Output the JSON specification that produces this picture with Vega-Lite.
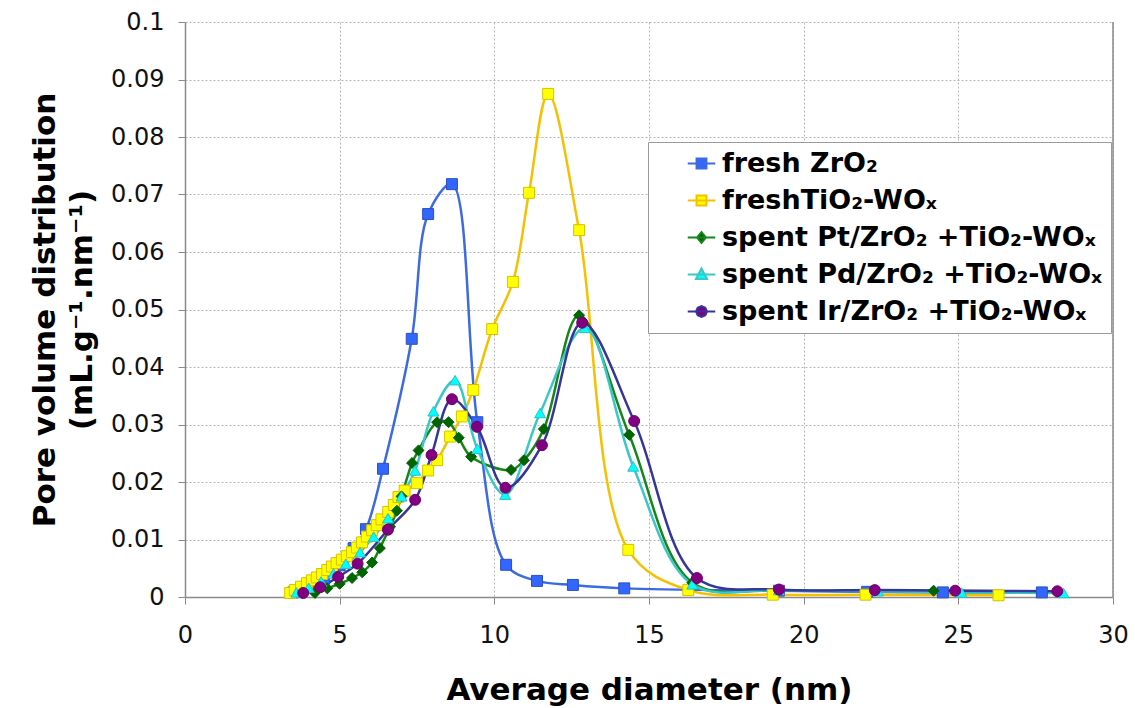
{
  "$schema": "https://vega.github.io/schema/vega-lite/v6.json",
  "width": 928,
  "height": 575,
  "autosize": {"type": "none"},
  "padding": {"left": 185, "top": 22, "right": 22, "bottom": 111},
  "background": "white",
  "config": {
    "view": {"stroke": null},
    "font": "DejaVu Sans",
    "axis": {
      "domainColor": "#8a8a8a",
      "domainWidth": 1.5,
      "tickColor": "#8a8a8a",
      "tickSize": 7,
      "gridColor": "#b4b4b4",
      "gridDash": [2, 2],
      "gridWidth": 1,
      "labelFont": "DejaVu Sans",
      "labelFontSize": 24,
      "labelColor": "#111",
      "titleFont": "DejaVu Sans",
      "titleFontSize": 31,
      "titleFontWeight": "bold",
      "titleColor": "#000"
    },
    "legend": {
      "title": null,
      "orient": "none",
      "legendX": 463,
      "legendY": 120,
      "padding": 8,
      "symbolOffset": 32,
      "strokeColor": "#9a9a9a",
      "fillColor": "white",
      "labelFont": "DejaVu Sans",
      "labelFontSize": 27,
      "labelFontWeight": "bold",
      "labelColor": "#000",
      "labelLimit": 500,
      "labelOffset": 7,
      "symbolSize": 121,
      "rowPadding": 9,
      "symbolStrokeWidth": 2
    }
  },
  "datasets": {
    "pores": [
      {"series": "fresh ZrO₂", "d": 3.5, "v": 0.0008},
      {"series": "fresh ZrO₂", "d": 4.0, "v": 0.0017},
      {"series": "fresh ZrO₂", "d": 4.5, "v": 0.0032},
      {"series": "fresh ZrO₂", "d": 5.0, "v": 0.0055},
      {"series": "fresh ZrO₂", "d": 5.45, "v": 0.0085},
      {"series": "fresh ZrO₂", "d": 5.85, "v": 0.0118},
      {"series": "fresh ZrO₂", "d": 6.4, "v": 0.0223},
      {"series": "fresh ZrO₂", "d": 7.33, "v": 0.0449},
      {"series": "fresh ZrO₂", "d": 7.86, "v": 0.0666},
      {"series": "fresh ZrO₂", "d": 8.63, "v": 0.0718},
      {"series": "fresh ZrO₂", "d": 9.45, "v": 0.0304},
      {"series": "fresh ZrO₂", "d": 10.38, "v": 0.0056},
      {"series": "fresh ZrO₂", "d": 11.38, "v": 0.0028},
      {"series": "fresh ZrO₂", "d": 12.54, "v": 0.0021},
      {"series": "fresh ZrO₂", "d": 14.2, "v": 0.0015},
      {"series": "fresh ZrO₂", "d": 19.2, "v": 0.0011},
      {"series": "fresh ZrO₂", "d": 22.05, "v": 0.0009},
      {"series": "fresh ZrO₂", "d": 24.5, "v": 0.0008},
      {"series": "fresh ZrO₂", "d": 27.7, "v": 0.0008},

      {"series": "freshTiO₂-WOₓ", "d": 3.4, "v": 0.0007},
      {"series": "freshTiO₂-WOₓ", "d": 3.55, "v": 0.0012},
      {"series": "freshTiO₂-WOₓ", "d": 3.75, "v": 0.0018},
      {"series": "freshTiO₂-WOₓ", "d": 3.94, "v": 0.0024},
      {"series": "freshTiO₂-WOₓ", "d": 4.1, "v": 0.0029},
      {"series": "freshTiO₂-WOₓ", "d": 4.26, "v": 0.0034},
      {"series": "freshTiO₂-WOₓ", "d": 4.43, "v": 0.004},
      {"series": "freshTiO₂-WOₓ", "d": 4.6, "v": 0.0047},
      {"series": "freshTiO₂-WOₓ", "d": 4.75, "v": 0.0053},
      {"series": "freshTiO₂-WOₓ", "d": 4.9, "v": 0.0059},
      {"series": "freshTiO₂-WOₓ", "d": 5.07, "v": 0.0065},
      {"series": "freshTiO₂-WOₓ", "d": 5.23, "v": 0.0071},
      {"series": "freshTiO₂-WOₓ", "d": 5.4, "v": 0.0078},
      {"series": "freshTiO₂-WOₓ", "d": 5.56, "v": 0.0086},
      {"series": "freshTiO₂-WOₓ", "d": 5.72, "v": 0.0095},
      {"series": "freshTiO₂-WOₓ", "d": 5.88, "v": 0.0105},
      {"series": "freshTiO₂-WOₓ", "d": 6.05, "v": 0.0116},
      {"series": "freshTiO₂-WOₓ", "d": 6.2, "v": 0.0125},
      {"series": "freshTiO₂-WOₓ", "d": 6.35, "v": 0.0135},
      {"series": "freshTiO₂-WOₓ", "d": 6.57, "v": 0.0148},
      {"series": "freshTiO₂-WOₓ", "d": 6.75, "v": 0.016},
      {"series": "freshTiO₂-WOₓ", "d": 6.9, "v": 0.0174},
      {"series": "freshTiO₂-WOₓ", "d": 7.1, "v": 0.0185},
      {"series": "freshTiO₂-WOₓ", "d": 7.5, "v": 0.0198},
      {"series": "freshTiO₂-WOₓ", "d": 7.86, "v": 0.022},
      {"series": "freshTiO₂-WOₓ", "d": 8.15, "v": 0.0238},
      {"series": "freshTiO₂-WOₓ", "d": 8.57, "v": 0.0279},
      {"series": "freshTiO₂-WOₓ", "d": 8.95, "v": 0.0314},
      {"series": "freshTiO₂-WOₓ", "d": 9.32, "v": 0.036},
      {"series": "freshTiO₂-WOₓ", "d": 9.93, "v": 0.0466},
      {"series": "freshTiO₂-WOₓ", "d": 10.6, "v": 0.0548},
      {"series": "freshTiO₂-WOₓ", "d": 11.12, "v": 0.0703},
      {"series": "freshTiO₂-WOₓ", "d": 11.74, "v": 0.0875},
      {"series": "freshTiO₂-WOₓ", "d": 12.74, "v": 0.0638},
      {"series": "freshTiO₂-WOₓ", "d": 14.33, "v": 0.0082},
      {"series": "freshTiO₂-WOₓ", "d": 16.27, "v": 0.0012},
      {"series": "freshTiO₂-WOₓ", "d": 19.0, "v": 0.0004},
      {"series": "freshTiO₂-WOₓ", "d": 22.0, "v": 0.0004},
      {"series": "freshTiO₂-WOₓ", "d": 26.3, "v": 0.0003},

      {"series": "spent Pt/ZrO₂ +TiO₂-WOₓ", "d": 4.2, "v": 0.0007},
      {"series": "spent Pt/ZrO₂ +TiO₂-WOₓ", "d": 4.6, "v": 0.0015},
      {"series": "spent Pt/ZrO₂ +TiO₂-WOₓ", "d": 5.0, "v": 0.0023},
      {"series": "spent Pt/ZrO₂ +TiO₂-WOₓ", "d": 5.4, "v": 0.0033},
      {"series": "spent Pt/ZrO₂ +TiO₂-WOₓ", "d": 5.73, "v": 0.0043},
      {"series": "spent Pt/ZrO₂ +TiO₂-WOₓ", "d": 6.05, "v": 0.006},
      {"series": "spent Pt/ZrO₂ +TiO₂-WOₓ", "d": 6.3, "v": 0.0085},
      {"series": "spent Pt/ZrO₂ +TiO₂-WOₓ", "d": 6.63, "v": 0.0122},
      {"series": "spent Pt/ZrO₂ +TiO₂-WOₓ", "d": 6.85, "v": 0.015},
      {"series": "spent Pt/ZrO₂ +TiO₂-WOₓ", "d": 7.0, "v": 0.0175},
      {"series": "spent Pt/ZrO₂ +TiO₂-WOₓ", "d": 7.34, "v": 0.0233},
      {"series": "spent Pt/ZrO₂ +TiO₂-WOₓ", "d": 7.55, "v": 0.0255},
      {"series": "spent Pt/ZrO₂ +TiO₂-WOₓ", "d": 8.15, "v": 0.0304},
      {"series": "spent Pt/ZrO₂ +TiO₂-WOₓ", "d": 8.52, "v": 0.0304},
      {"series": "spent Pt/ZrO₂ +TiO₂-WOₓ", "d": 8.85, "v": 0.0277},
      {"series": "spent Pt/ZrO₂ +TiO₂-WOₓ", "d": 9.25, "v": 0.0244},
      {"series": "spent Pt/ZrO₂ +TiO₂-WOₓ", "d": 10.54, "v": 0.0221},
      {"series": "spent Pt/ZrO₂ +TiO₂-WOₓ", "d": 10.96, "v": 0.0238},
      {"series": "spent Pt/ZrO₂ +TiO₂-WOₓ", "d": 11.6, "v": 0.0292},
      {"series": "spent Pt/ZrO₂ +TiO₂-WOₓ", "d": 12.74, "v": 0.049},
      {"series": "spent Pt/ZrO₂ +TiO₂-WOₓ", "d": 14.36, "v": 0.0282},
      {"series": "spent Pt/ZrO₂ +TiO₂-WOₓ", "d": 16.4, "v": 0.0025},
      {"series": "spent Pt/ZrO₂ +TiO₂-WOₓ", "d": 19.2, "v": 0.0012},
      {"series": "spent Pt/ZrO₂ +TiO₂-WOₓ", "d": 22.3, "v": 0.0011},
      {"series": "spent Pt/ZrO₂ +TiO₂-WOₓ", "d": 24.2, "v": 0.0011},
      {"series": "spent Pt/ZrO₂ +TiO₂-WOₓ", "d": 28.2, "v": 0.0009},

      {"series": "spent Pd/ZrO₂ +TiO₂-WOₓ", "d": 3.6, "v": 0.0008},
      {"series": "spent Pd/ZrO₂ +TiO₂-WOₓ", "d": 4.0, "v": 0.0016},
      {"series": "spent Pd/ZrO₂ +TiO₂-WOₓ", "d": 4.4, "v": 0.0027},
      {"series": "spent Pd/ZrO₂ +TiO₂-WOₓ", "d": 4.8, "v": 0.0041},
      {"series": "spent Pd/ZrO₂ +TiO₂-WOₓ", "d": 5.2, "v": 0.0058},
      {"series": "spent Pd/ZrO₂ +TiO₂-WOₓ", "d": 5.66, "v": 0.0078},
      {"series": "spent Pd/ZrO₂ +TiO₂-WOₓ", "d": 6.1, "v": 0.0105},
      {"series": "spent Pd/ZrO₂ +TiO₂-WOₓ", "d": 6.56, "v": 0.0137},
      {"series": "spent Pd/ZrO₂ +TiO₂-WOₓ", "d": 7.0, "v": 0.0175},
      {"series": "spent Pd/ZrO₂ +TiO₂-WOₓ", "d": 7.44, "v": 0.022},
      {"series": "spent Pd/ZrO₂ +TiO₂-WOₓ", "d": 8.03, "v": 0.0323},
      {"series": "spent Pd/ZrO₂ +TiO₂-WOₓ", "d": 8.73, "v": 0.0377},
      {"series": "spent Pd/ZrO₂ +TiO₂-WOₓ", "d": 9.45, "v": 0.0258},
      {"series": "spent Pd/ZrO₂ +TiO₂-WOₓ", "d": 10.35, "v": 0.0178},
      {"series": "spent Pd/ZrO₂ +TiO₂-WOₓ", "d": 11.48, "v": 0.032},
      {"series": "spent Pd/ZrO₂ +TiO₂-WOₓ", "d": 12.93, "v": 0.0468},
      {"series": "spent Pd/ZrO₂ +TiO₂-WOₓ", "d": 14.49, "v": 0.0227},
      {"series": "spent Pd/ZrO₂ +TiO₂-WOₓ", "d": 16.4, "v": 0.0022},
      {"series": "spent Pd/ZrO₂ +TiO₂-WOₓ", "d": 19.2, "v": 0.0012},
      {"series": "spent Pd/ZrO₂ +TiO₂-WOₓ", "d": 22.4, "v": 0.001},
      {"series": "spent Pd/ZrO₂ +TiO₂-WOₓ", "d": 25.1, "v": 0.0008},
      {"series": "spent Pd/ZrO₂ +TiO₂-WOₓ", "d": 28.4, "v": 0.0007},

      {"series": "spent Ir/ZrO₂ +TiO₂-WOₓ", "d": 3.82, "v": 0.0007},
      {"series": "spent Ir/ZrO₂ +TiO₂-WOₓ", "d": 4.37, "v": 0.0017},
      {"series": "spent Ir/ZrO₂ +TiO₂-WOₓ", "d": 4.95, "v": 0.0035},
      {"series": "spent Ir/ZrO₂ +TiO₂-WOₓ", "d": 5.58, "v": 0.0058},
      {"series": "spent Ir/ZrO₂ +TiO₂-WOₓ", "d": 6.56, "v": 0.0117},
      {"series": "spent Ir/ZrO₂ +TiO₂-WOₓ", "d": 7.44, "v": 0.0169},
      {"series": "spent Ir/ZrO₂ +TiO₂-WOₓ", "d": 7.97, "v": 0.0247},
      {"series": "spent Ir/ZrO₂ +TiO₂-WOₓ", "d": 8.63, "v": 0.0344},
      {"series": "spent Ir/ZrO₂ +TiO₂-WOₓ", "d": 9.44, "v": 0.0296},
      {"series": "spent Ir/ZrO₂ +TiO₂-WOₓ", "d": 10.36, "v": 0.019},
      {"series": "spent Ir/ZrO₂ +TiO₂-WOₓ", "d": 11.54, "v": 0.0264},
      {"series": "spent Ir/ZrO₂ +TiO₂-WOₓ", "d": 12.84, "v": 0.0477},
      {"series": "spent Ir/ZrO₂ +TiO₂-WOₓ", "d": 14.52, "v": 0.0306},
      {"series": "spent Ir/ZrO₂ +TiO₂-WOₓ", "d": 16.55, "v": 0.0033},
      {"series": "spent Ir/ZrO₂ +TiO₂-WOₓ", "d": 19.2, "v": 0.0013},
      {"series": "spent Ir/ZrO₂ +TiO₂-WOₓ", "d": 22.3, "v": 0.0012},
      {"series": "spent Ir/ZrO₂ +TiO₂-WOₓ", "d": 24.9, "v": 0.0011},
      {"series": "spent Ir/ZrO₂ +TiO₂-WOₓ", "d": 28.2, "v": 0.001}
    ]
  },
  "layer": [
    {
      "data": {"name": "pores"},
      "mark": {"type": "line", "interpolate": "catmull-rom", "strokeWidth": 2.5},
      "encoding": {
        "x": {
          "field": "d",
          "type": "quantitative",
          "scale": {"domain": [0, 30], "nice": false, "zero": false},
          "axis": {
            "title": "Average diameter (nm)",
            "values": [0, 5, 10, 15, 20, 25, 30],
            "labelPadding": 19,
            "titlePadding": 28,
            "labelFlush": false
          }
        },
        "y": {
          "field": "v",
          "type": "quantitative",
          "scale": {"domain": [0, 0.1], "nice": false},
          "axis": {
            "title": ["Pore volume distribution", "(mL.g⁻¹.nm⁻¹)"],
            "values": [0, 0.01, 0.02, 0.03, 0.04, 0.05, 0.06, 0.07, 0.08, 0.09, 0.1],
            "format": ".2~f",
            "labelPadding": 14,
            "titlePadding": 12,
            "titleLineHeight": 37
          }
        },
        "color": {
          "field": "series",
          "type": "nominal",
          "scale": {
            "domain": ["spent Ir/ZrO₂ +TiO₂-WOₓ", "spent Pd/ZrO₂ +TiO₂-WOₓ", "spent Pt/ZrO₂ +TiO₂-WOₓ", "freshTiO₂-WOₓ", "fresh ZrO₂"],
            "range": ["#35359a", "#3cc6c6", "#16861a", "#f5c000", "#3d6ae0"]
          },
          "legend": null
        }
      }
    },
    {
      "data": {"name": "pores"},
      "mark": {"type": "point", "filled": true, "opacity": 1, "strokeWidth": 1, "size": 120},
      "encoding": {
        "x": {"field": "d", "type": "quantitative"},
        "y": {"field": "v", "type": "quantitative"},
        "fill": {
          "field": "series",
          "type": "nominal",
          "scale": {
            "domain": ["fresh ZrO₂", "freshTiO₂-WOₓ", "spent Pt/ZrO₂ +TiO₂-WOₓ", "spent Pd/ZrO₂ +TiO₂-WOₓ", "spent Ir/ZrO₂ +TiO₂-WOₓ"],
            "range": ["#3366ff", "#ffff00", "#006400", "#00ffff", "#800080"]
          },
          "legend": {
            "encoding": {
              "symbols": {
                "shape": {"value": {"expr": "['M-2.5,0H2.5M-0.9,-0.9H0.9V0.9H-0.9Z','M-2.5,0H2.5M-0.9,-0.9H0.9V0.9H-0.9Z','M-2.5,0H2.5M0,-1L0.8,0L0,1L-0.8,0Z','M-2.5,0H2.5M0,-1.1L1,0.8H-1Z','M-2.5,0H2.5M1,0L0.7,0.7L0,1L-0.7,0.7L-1,0L-0.7,-0.7L0,-1L0.7,-0.7Z'][datum.index]"}},
                "stroke": {"value": {"expr": "['#3d6ae0','#f5c000','#16861a','#3cc6c6','#35359a'][datum.index]"}},
                "strokeWidth": {"value": 2},
                "opacity": {"value": 1}
              }
            }
          }
        },
        "shape": {
          "field": "series",
          "type": "nominal",
          "scale": {
            "domain": ["freshTiO₂-WOₓ", "spent Pt/ZrO₂ +TiO₂-WOₓ", "spent Pd/ZrO₂ +TiO₂-WOₓ", "spent Ir/ZrO₂ +TiO₂-WOₓ", "fresh ZrO₂"],
            "range": ["square", "diamond", "triangle-up", "circle", "square"]
          },
          "legend": null
        },
        "stroke": {
          "field": "series",
          "type": "nominal",
          "scale": {
            "domain": ["spent Pt/ZrO₂ +TiO₂-WOₓ", "spent Pd/ZrO₂ +TiO₂-WOₓ", "spent Ir/ZrO₂ +TiO₂-WOₓ", "fresh ZrO₂", "freshTiO₂-WOₓ"],
            "range": ["#006000", "#30c0c0", "#700070", "#2a50c0", "#d8c000"]
          },
          "legend": null
        }
      }
    },
    {
      "data": {"values": [{}]},
      "mark": {"type": "rule", "color": "#8a8a8a", "strokeWidth": 1.5},
      "encoding": {"x": {"datum": 30}}
    }
  ]
}
